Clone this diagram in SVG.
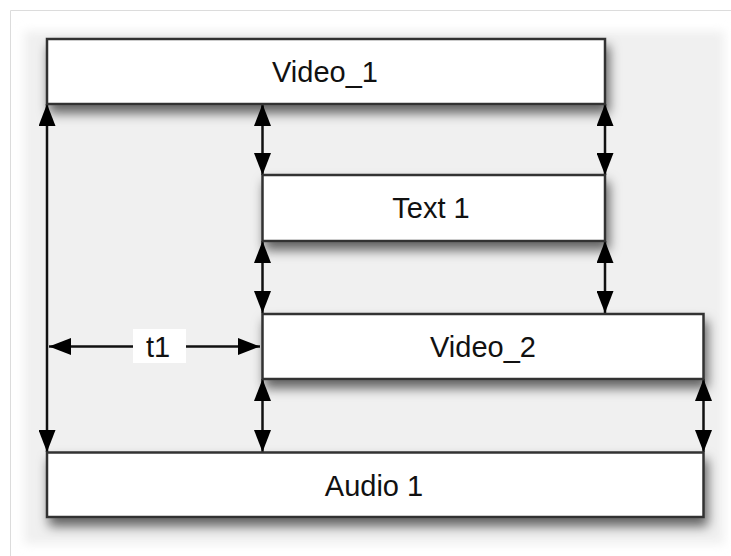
<svg xmlns="http://www.w3.org/2000/svg" width="731" height="556" viewBox="0 0 731 556">
  <style>
    .box { fill: #ffffff; stroke: #333333; stroke-width: 2.5; }
    .lbl { font-family: "Liberation Sans", Arial, sans-serif; font-size: 29px; fill: #111111; text-anchor: middle; }
    .conn { stroke: #111111; stroke-width: 2.5; fill: none; marker-start: url(#head); marker-end: url(#head); }
  </style>
  <defs>
    <marker id="head" viewBox="0 0 22 17" refX="22" refY="8.5" markerWidth="22" markerHeight="17" markerUnits="userSpaceOnUse" orient="auto-start-reverse">
      <path d="M0,0 L22,8.5 L0,17 Z" fill="#000000"/>
    </marker>
    <filter id="shadow" x="-10%" y="-30%" width="125%" height="190%">
      <feDropShadow dx="3" dy="8" stdDeviation="6" flood-color="#000000" flood-opacity="0.6"/>
    </filter>
    <filter id="soft" x="-5%" y="-5%" width="110%" height="110%">
      <feGaussianBlur stdDeviation="5"/>
    </filter>
  </defs>

  <!-- page and panel -->
  <rect x="0" y="0" width="731" height="556" fill="#ffffff"/>
  <path d="M10.5,556 V10.5 H731" fill="none" stroke="#dcdcdc" stroke-width="1"/>
  <rect x="24" y="31" width="700" height="513" fill="#f0f0f0" filter="url(#soft)"/>

  <!-- connectors -->
  <g id="connectors">
    <line class="conn" x1="47" y1="104" x2="47" y2="452"/>
    <line class="conn" x1="262.5" y1="104" x2="262.5" y2="175"/>
    <line class="conn" x1="605" y1="104" x2="605" y2="175"/>
    <line class="conn" x1="262.5" y1="241" x2="262.5" y2="313"/>
    <line class="conn" x1="605" y1="241" x2="605" y2="313"/>
    <line class="conn" x1="262.5" y1="379" x2="262.5" y2="452"/>
    <line class="conn" x1="703.5" y1="379" x2="703.5" y2="452"/>
    <g id="t1">
      <line class="conn" x1="49" y1="346.5" x2="260" y2="346.5"/>
      <rect x="133" y="329" width="53" height="34" fill="#ffffff"/>
      <text class="lbl" x="158" y="357">t1</text>
    </g>
  </g>

  <!-- nodes -->
  <g id="video1">
    <rect class="box" x="47" y="39" width="558" height="65" filter="url(#shadow)"/>
    <text class="lbl" x="325" y="82">Video_1</text>
  </g>
  <g id="text1">
    <rect class="box" x="262.5" y="175" width="342.5" height="66" filter="url(#shadow)"/>
    <text class="lbl" x="431" y="218">Text 1</text>
  </g>
  <g id="video2">
    <rect class="box" x="262.5" y="314" width="441" height="65" filter="url(#shadow)"/>
    <text class="lbl" x="483" y="357">Video_2</text>
  </g>
  <g id="audio1">
    <rect class="box" x="47" y="452.5" width="656.5" height="64.5" filter="url(#shadow)"/>
    <text class="lbl" x="374" y="496">Audio 1</text>
  </g>
</svg>
